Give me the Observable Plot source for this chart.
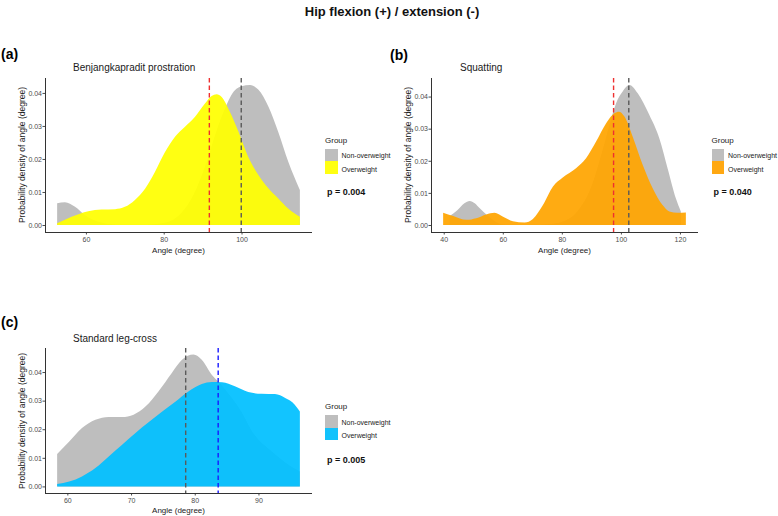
<!DOCTYPE html>
<html>
<head>
<meta charset="utf-8">
<script src="https://cdn.jsdelivr.net/npm/d3@7"></script>
<script src="https://cdn.jsdelivr.net/npm/@observablehq/plot@0.6"></script>
<style>
  body { margin: 0; background: #ffffff; }
  #page { position: relative; width: 778px; height: 516px; overflow: hidden; font-family: "Liberation Sans", Arial, sans-serif; background: #fff; }
  .t { position: absolute; white-space: nowrap; line-height: 1; }
  .plot { position: absolute; }
</style>
</head>
<body>
<div id="page"></div>
<script>
// ---------- Data ----------
const mainTitle = "Hip flexion (+) / extension (-)";
const groups = ["Non-overweight", "Overweight"];
const xTitle = "Angle (degree)";
const yTitle = "Probability density of angle (degree)";
const yTicks = [0, 0.01, 0.02, 0.03, 0.04];

// (a) Benjangkapradit prostration
const aTitle = "Benjangkapradit prostration";
const aP = "p = 0.004";
const aXTicks = [60, 80, 100];
const aNonAngle = [52.6, 54.6, 57.2, 59.7, 63.2, 68.3, 75.2, 80, 84, 88, 91, 94, 96, 97.4, 100, 102.2, 104.3, 106.9, 109.4, 112, 115];
const aNonDens  = [0.0066, 0.0069, 0.0055, 0.003, 0.001, 0.0001, 0.0001, 0.0006, 0.003, 0.010, 0.019, 0.030, 0.036, 0.0394, 0.042, 0.0424, 0.041, 0.0359, 0.0283, 0.0192, 0.0106];
const aOverAngle = [52.6, 56.3, 60.6, 64, 67.5, 70, 72.6, 75.2, 77.7, 80.3, 82.9, 85.4, 88, 90.6, 92.3, 93.6, 94.9, 97, 99.2, 101.7, 104.3, 106.9, 109.4, 112, 115];
const aOverDens  = [0.0005, 0.0025, 0.0042, 0.0047, 0.0048, 0.0055, 0.0076, 0.011, 0.016, 0.022, 0.0267, 0.0297, 0.0327, 0.0368, 0.0391, 0.0396, 0.0388, 0.0343, 0.0283, 0.0207, 0.0152, 0.0111, 0.0081, 0.005, 0.0025];
const aMeanNon = 99.8, aMeanOver = 91.6;

// (b) Squatting
const bTitle = "Squatting";
const bP = "p = 0.040";
const bXTicks = [40, 60, 80, 100, 120];
const bNonAngle = [42, 44.5, 47, 48.8, 50.5, 52.2, 55, 58, 61, 66, 72, 76, 80, 85, 90, 94, 97, 98.4, 100.6, 102.9, 105.7, 109.6, 113, 115.8, 118.6, 120.3];
const bNonDens  = [0.0028, 0.0045, 0.0068, 0.0075, 0.0068, 0.0052, 0.0028, 0.0008, 0.0001, 0.0001, 0.0001, 0.0003, 0.001, 0.004, 0.012, 0.024, 0.034, 0.038, 0.0416, 0.0436, 0.041, 0.0343, 0.027, 0.0177, 0.0083, 0.0042];
const bOverAngle = [39.8, 43.2, 47.7, 51, 54.4, 57.2, 60.1, 63.4, 67.4, 70.2, 73.6, 77, 80.3, 84.8, 88.2, 91.6, 95, 97.8, 99.3, 101.2, 104, 107.4, 110.8, 114.1, 116.4, 119.2, 122];
const bOverDens  = [0.0038, 0.0028, 0.0016, 0.0021, 0.0033, 0.0038, 0.0026, 0.0012, 0.0008, 0.0019, 0.0062, 0.012, 0.0148, 0.0177, 0.0208, 0.026, 0.0317, 0.0348, 0.0353, 0.0338, 0.0275, 0.0187, 0.0114, 0.0062, 0.0042, 0.0038, 0.0039];
const bMeanNon = 102.5, bMeanOver = 97.35;

// (c) Standard leg-cross
const cTitle = "Standard leg-cross";
const cP = "p = 0.005";
const cXTicks = [60, 70, 80, 90];
const cNonAngle = [58.4, 60.3, 62.3, 64.4, 66.5, 68.6, 70.4, 72.3, 74.3, 76.4, 78, 79.8, 81.1, 82.7, 83.7, 85.8, 87.3, 89, 92.1, 94.7, 96.5];
const cNonDens  = [0.0113, 0.0157, 0.0204, 0.0233, 0.0243, 0.0243, 0.0251, 0.028, 0.0332, 0.0397, 0.0443, 0.0461, 0.0443, 0.039, 0.0367, 0.031, 0.0262, 0.0192, 0.0122, 0.0076, 0.0052];
const cOverAngle = [58.4, 60.3, 62.3, 64.4, 66.5, 68.6, 70.7, 72.8, 74.9, 77, 79, 81.1, 82.7, 84.3, 86.3, 88.4, 90.5, 92.6, 94.2, 95.7, 96.5];
const cOverDens  = [0.0008, 0.0017, 0.0035, 0.0064, 0.0105, 0.0146, 0.0187, 0.0225, 0.0262, 0.0297, 0.0332, 0.0358, 0.0365, 0.0364, 0.035, 0.033, 0.0324, 0.0323, 0.0309, 0.0286, 0.0262];
const cMeanNon = 78.5, cMeanOver = 83.6;

// ---------- Styling ----------
const nonColor = "#bebebe";
const FONT = '"Liberation Sans", Arial, sans-serif';
const page = document.getElementById("page");

function text(str, cx, cy, opts = {}) {
  const el = document.createElement("div");
  el.className = "t";
  el.textContent = str;
  el.style.left = cx + "px";
  el.style.top = cy + "px";
  el.style.fontSize = (opts.size || 10) + "px";
  el.style.fontWeight = opts.weight || "normal";
  el.style.color = opts.color || "#000";
  const ax = opts.anchor === "start" ? "0" : opts.anchor === "end" ? "-100%" : "-50%";
  el.style.transform = `translate(${ax}, -50%)`;
  page.appendChild(el);
  return el;
}
function rotText(str, cx, cy, opts = {}) {
  const el = document.createElement("div");
  el.className = "t";
  el.textContent = str;
  el.style.left = cx + "px";
  el.style.top = cy + "px";
  el.style.fontSize = (opts.size || 10) + "px";
  el.style.color = opts.color || "#000";
  el.style.transform = "translate(-50%, -50%) rotate(-90deg)";
  page.appendChild(el);
}
function swatch(x, y, w, h, color) {
  const el = document.createElement("div");
  el.style.position = "absolute";
  el.style.left = x + "px"; el.style.top = y + "px";
  el.style.width = w + "px"; el.style.height = h + "px";
  el.style.background = color;
  page.appendChild(el);
}

function zip(xs, ys) { return xs.map((x, i) => ({angle: x, density: ys[i]})); }
function expand(lo, hi) { const d = (hi - lo) * 0.05; return [lo - d, hi + d]; }

function panel(cfg) {
  const non = zip(cfg.nonAngle, cfg.nonDens);
  const over = zip(cfg.overAngle, cfg.overDens);
  const allX = cfg.nonAngle.concat(cfg.overAngle);
  const allY = cfg.nonDens.concat(cfg.overDens).concat([0]);
  const xDomain = expand(d3.min(allX), d3.max(allX));
  const yDomain = expand(0, d3.max(allY));
  const chart = Plot.plot({
    width: cfg.width, height: cfg.height,
    marginLeft: cfg.mL, marginRight: cfg.mR, marginTop: cfg.mT, marginBottom: cfg.mB,
    style: {background: "transparent", fontFamily: FONT, fontSize: "7px", color: "#4d4d4d", overflow: "visible"},
    x: {domain: xDomain, ticks: cfg.xTicks, tickSize: 2.5, tickPadding: 2, label: null},
    y: {domain: yDomain, ticks: yTicks, tickSize: 2.5, tickPadding: 1, tickFormat: d3.format(".2f"), label: null},
    marks: [
      Plot.areaY(non, {x: "angle", y: "density", fill: nonColor, curve: "monotone-x"}),
      Plot.areaY(over, {x: "angle", y: "density", fill: cfg.overColor, fillOpacity: 0.93, curve: "monotone-x"}),
      Plot.ruleX([cfg.meanOver], {stroke: cfg.overLine, strokeWidth: 1.4, strokeDasharray: "4.5,3"}),
      Plot.ruleX([cfg.meanNon], {stroke: "#5a5a5a", strokeWidth: 1.4, strokeDasharray: "4.5,3"}),
      Plot.ruleY([yDomain[0]], {stroke: "#333333", strokeWidth: 1}),
      Plot.ruleX([xDomain[0]], {stroke: "#333333", strokeWidth: 1})
    ]
  });
  chart.classList.add("plot");
  chart.style.left = cfg.left + "px";
  chart.style.top = cfg.top + "px";
  page.appendChild(chart);

  const fx0 = cfg.left + cfg.mL, fx1 = cfg.left + cfg.width - cfg.mR;
  const fy0 = cfg.top + cfg.mT, fy1 = cfg.top + cfg.height - cfg.mB;
  text(cfg.letter, cfg.letterX, cfg.letterY, {size: 14, weight: "bold", anchor: "start"});
  text(cfg.title, cfg.titleX, cfg.titleY, {size: 10, color: "#1a1a1a", anchor: "start"});
  text(xTitle, (fx0 + fx1) / 2, cfg.xTitleY, {size: 8, color: "#222"});
  rotText(yTitle, cfg.yTitleX, (fy0 + fy1) / 2, {size: 8.5, color: "#222"});
  const lx = cfg.legX, ly = cfg.legY;
  text("Group", lx, ly, {size: 8, color: "#1a1a1a", anchor: "start"});
  swatch(lx, ly + 8, 12.5, 12.5, nonColor);
  swatch(lx, ly + 20.5, 12.5, 12.5, cfg.overKey);
  text(groups[0], lx + 16.5, ly + 14.5, {size: 7, color: "#1a1a1a", anchor: "start"});
  text(groups[1], lx + 16.5, ly + 28, {size: 7, color: "#1a1a1a", anchor: "start"});
  text(cfg.p, lx + 2, cfg.pY, {size: 9, weight: "bold", color: "#111", anchor: "start"});
}

text(mainTitle, 392, 10.5, {size: 13, weight: "bold", color: "#111"});

panel({
  letter: "(a)", letterX: 1, letterY: 54, title: aTitle, titleX: 73, titleY: 68,
  left: 0, top: 60, width: 320, height: 200, mL: 45, mR: 8, mT: 18, mB: 28,
  xTicks: aXTicks, nonAngle: aNonAngle, nonDens: aNonDens, overAngle: aOverAngle, overDens: aOverDens,
  overColor: "#ffff00", overKey: "#ffff12", overLine: "#ee3030", meanNon: aMeanNon, meanOver: aMeanOver,
  xTitleY: 250.5, yTitleX: 21.5, legX: 325, legY: 140.5, pY: 192, p: aP
});
panel({
  letter: "(b)", letterX: 390, letterY: 55, title: bTitle, titleX: 460, titleY: 68,
  left: 390, top: 60, width: 320, height: 200, mL: 41, mR: 12, mT: 18, mB: 28,
  xTicks: bXTicks, nonAngle: bNonAngle, nonDens: bNonDens, overAngle: bOverAngle, overDens: bOverDens,
  overColor: "#ffa500", overKey: "#ffa812", overLine: "#ee3030", meanNon: bMeanNon, meanOver: bMeanOver,
  xTitleY: 250.5, yTitleX: 408, legX: 711.5, legY: 140.5, pY: 192, p: bP
});
panel({
  letter: "(c)", letterX: 1, letterY: 321.5, title: cTitle, titleX: 73, titleY: 339,
  left: 0, top: 330, width: 320, height: 186, mL: 45, mR: 8, mT: 18, mB: 23,
  xTicks: cXTicks, nonAngle: cNonAngle, nonDens: cNonDens, overAngle: cOverAngle, overDens: cOverDens,
  overColor: "#00bfff", overKey: "#12c2fc", overLine: "#1a1aff", meanNon: cMeanNon, meanOver: cMeanOver,
  xTitleY: 510.5, yTitleX: 21.5, legX: 325, legY: 407, pY: 460, p: cP
});
</script>
</body>
</html>
